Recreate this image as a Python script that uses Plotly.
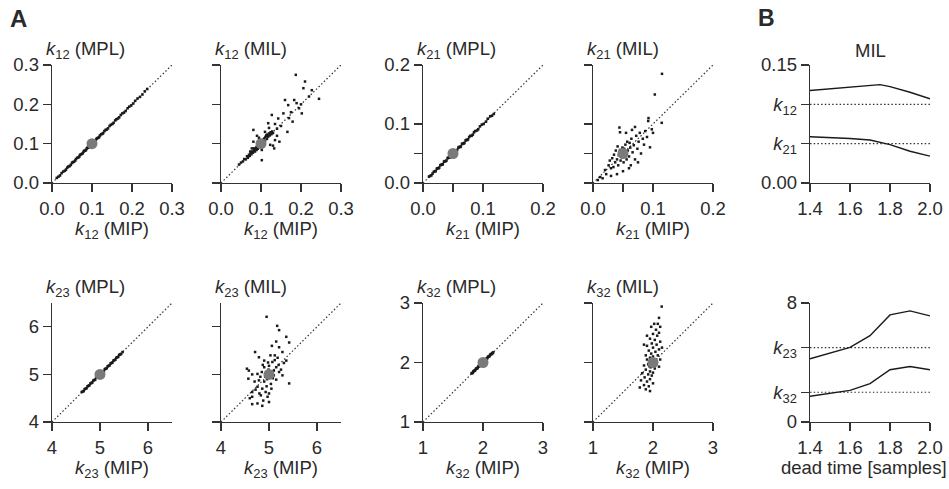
import plotly.graph_objects as go

W, H = 949, 489

# ---------------- data ----------------
k12_true = 0.1
k21_true = 0.05
k23_true = 5.0
k32_true = 2.0

k12_mpl_x = [0.012, 0.016, 0.02, 0.024, 0.028, 0.032, 0.035, 0.038, 0.041, 0.044, 0.047, 0.05, 0.052, 0.055,
             0.058, 0.06, 0.063, 0.066, 0.068, 0.07, 0.072, 0.075, 0.077, 0.079, 0.081, 0.083, 0.085, 0.087,
             0.089, 0.091, 0.093, 0.095, 0.097, 0.099, 0.101, 0.103, 0.105, 0.107, 0.109, 0.111, 0.113, 0.116,
             0.118, 0.12, 0.123, 0.126, 0.128, 0.131, 0.134, 0.137, 0.14, 0.144, 0.147, 0.151, 0.154, 0.158,
             0.161, 0.165, 0.168, 0.172, 0.176, 0.18, 0.184, 0.189, 0.193, 0.198, 0.203, 0.208, 0.214, 0.22,
             0.226, 0.232, 0.238]
k12_mpl_y = [0.013, 0.016, 0.019, 0.025, 0.029, 0.031, 0.034, 0.039, 0.042, 0.043, 0.046, 0.051, 0.053, 0.054,
             0.057, 0.061, 0.064, 0.065, 0.067, 0.071, 0.073, 0.074, 0.076, 0.08, 0.082, 0.082, 0.084, 0.088,
             0.09, 0.09, 0.092, 0.096, 0.098, 0.098, 0.1, 0.104, 0.106, 0.106, 0.108, 0.112, 0.114, 0.115,
             0.117, 0.121, 0.124, 0.125, 0.127, 0.132, 0.135, 0.136, 0.139, 0.145, 0.148, 0.15, 0.153, 0.159,
             0.162, 0.164, 0.167, 0.173, 0.177, 0.179, 0.183, 0.19, 0.194, 0.197, 0.202, 0.209, 0.215, 0.219,
             0.225, 0.233, 0.239]

k12_mil_x = [0.045, 0.05, 0.055, 0.058, 0.062, 0.065, 0.067, 0.07, 0.072, 0.074, 0.076, 0.078, 0.08, 0.082,
             0.083, 0.085, 0.086, 0.088, 0.089, 0.09, 0.092, 0.093, 0.095, 0.096, 0.098, 0.1, 0.102, 0.103,
             0.105, 0.106, 0.108, 0.11, 0.111, 0.113, 0.115, 0.116, 0.118, 0.12, 0.122, 0.124, 0.126, 0.128,
             0.13, 0.081, 0.11, 0.114, 0.118, 0.127, 0.143, 0.156, 0.166, 0.179, 0.16, 0.168, 0.183, 0.189,
             0.202, 0.187, 0.21, 0.206, 0.227, 0.245, 0.135, 0.146, 0.133, 0.123, 0.102, 0.081, 0.073, 0.068,
             0.077, 0.102, 0.14, 0.15, 0.135, 0.12, 0.095, 0.09, 0.13, 0.14, 0.175, 0.195, 0.22, 0.17, 0.2]
k12_mil_y = [0.047, 0.052, 0.055, 0.061, 0.06, 0.068, 0.064, 0.072, 0.069, 0.076, 0.073, 0.08, 0.077, 0.083,
             0.088, 0.08, 0.086, 0.09, 0.084, 0.093, 0.087, 0.096, 0.092, 0.1, 0.095, 0.103, 0.098, 0.107,
             0.101, 0.11, 0.113, 0.106, 0.117, 0.12, 0.112, 0.123, 0.118, 0.126, 0.121, 0.129, 0.124, 0.131,
             0.127, 0.135, 0.13, 0.122, 0.152, 0.173, 0.164, 0.177, 0.13, 0.156, 0.211, 0.198, 0.211, 0.203,
             0.177, 0.275, 0.258, 0.241, 0.236, 0.214, 0.109, 0.105, 0.088, 0.097, 0.084, 0.105, 0.08, 0.067,
             0.088, 0.058, 0.138, 0.145, 0.15, 0.14, 0.115, 0.12, 0.095, 0.12, 0.18, 0.19, 0.22, 0.165, 0.2]

k21_mpl_x = [0.01, 0.012, 0.014, 0.016, 0.018, 0.02, 0.021, 0.023, 0.024, 0.026, 0.027, 0.029, 0.03, 0.032,
             0.033, 0.035, 0.036, 0.038, 0.039, 0.041, 0.042, 0.044, 0.045, 0.047, 0.048, 0.05, 0.051, 0.053,
             0.054, 0.056, 0.057, 0.059, 0.06, 0.062, 0.063, 0.065, 0.066, 0.068, 0.069, 0.071, 0.072, 0.074,
             0.075, 0.077, 0.079, 0.081, 0.083, 0.085, 0.087, 0.09, 0.092, 0.095, 0.098, 0.101, 0.105, 0.108,
             0.112, 0.115, 0.118]
k21_mpl_y = [0.011, 0.012, 0.013, 0.016, 0.019, 0.02, 0.02, 0.024, 0.025, 0.025, 0.026, 0.03, 0.031, 0.031,
             0.032, 0.036, 0.037, 0.037, 0.038, 0.042, 0.043, 0.043, 0.044, 0.048, 0.049, 0.049, 0.05, 0.054,
             0.055, 0.055, 0.056, 0.06, 0.061, 0.061, 0.062, 0.066, 0.067, 0.067, 0.068, 0.072, 0.073, 0.073,
             0.074, 0.078, 0.08, 0.08, 0.082, 0.086, 0.088, 0.089, 0.091, 0.096, 0.099, 0.1, 0.104, 0.109,
             0.113, 0.114, 0.117]

k21_mil_x = [0.008, 0.012, 0.016, 0.02, 0.022, 0.026, 0.028, 0.03, 0.032, 0.034, 0.035, 0.037, 0.038, 0.04,
             0.041, 0.042, 0.043, 0.044, 0.045, 0.045, 0.046, 0.047, 0.048, 0.049, 0.05, 0.051, 0.052, 0.053,
             0.054, 0.055, 0.056, 0.057, 0.058, 0.06, 0.061, 0.062, 0.063, 0.064, 0.066, 0.068, 0.07, 0.072,
             0.074, 0.076, 0.078, 0.08, 0.083, 0.087, 0.092, 0.0925, 0.098, 0.095, 0.103, 0.1145, 0.115, 0.085,
             0.07, 0.06, 0.05, 0.04, 0.03, 0.055, 0.065, 0.075, 0.09, 0.1]
k21_mil_y = [0.005, 0.01, 0.008, 0.022, 0.015, 0.03, 0.038, 0.025, 0.042, 0.027, 0.048, 0.035, 0.055, 0.04,
             0.062, 0.03, 0.047, 0.094, 0.086, 0.056, 0.038, 0.05, 0.044, 0.06, 0.052, 0.035, 0.058, 0.046,
             0.065, 0.05, 0.04, 0.07, 0.055, 0.045, 0.068, 0.06, 0.03, 0.075, 0.052, 0.064, 0.04, 0.08,
             0.058, 0.07, 0.085, 0.05, 0.075, 0.088, 0.105, 0.11, 0.091, 0.0605, 0.15, 0.102, 0.185, 0.065,
             0.095, 0.025, 0.02, 0.015, 0.012, 0.085, 0.09, 0.035, 0.078, 0.085]

k23_mpl_x = [4.62, 4.64, 4.66, 4.68, 4.7, 4.72, 4.74, 4.76, 4.78, 4.8, 4.82, 4.84, 4.86, 4.88, 4.9, 4.92,
             4.94, 4.96, 4.98, 5.0, 5.02, 5.04, 5.06, 5.08, 5.1, 5.12, 5.14, 5.16, 5.18, 5.2, 5.22, 5.24,
             5.26, 5.28, 5.3, 5.32, 5.34, 5.36, 5.38, 5.4, 5.42, 5.44, 5.47]
k23_mpl_y = [4.63, 4.64, 4.65, 4.69, 4.7, 4.71, 4.75, 4.76, 4.77, 4.81, 4.82, 4.83, 4.87, 4.88, 4.89, 4.93,
             4.94, 4.95, 4.99, 5.0, 5.01, 5.05, 5.06, 5.07, 5.11, 5.12, 5.13, 5.17, 5.18, 5.19, 5.23, 5.24,
             5.25, 5.29, 5.3, 5.31, 5.35, 5.36, 5.37, 5.41, 5.42, 5.43, 5.47]

k32_mpl_x = [1.81, 1.82, 1.83, 1.84, 1.85, 1.86, 1.87, 1.88, 1.89, 1.9, 1.91, 1.92, 1.93, 1.94, 1.95, 1.96,
             1.97, 1.98, 1.99, 2.0, 2.01, 2.02, 2.03, 2.04, 2.05, 2.06, 2.07, 2.08, 2.09, 2.1, 2.11, 2.12,
             2.13, 2.14, 2.15, 2.16, 2.17]
k32_mpl_y = [1.82, 1.82, 1.83, 1.85, 1.86, 1.86, 1.87, 1.89, 1.9, 1.9, 1.91, 1.93, 1.94, 1.94, 1.95, 1.97,
             1.98, 1.98, 1.99, 2.01, 2.02, 2.02, 2.03, 2.05, 2.06, 2.06, 2.07, 2.09, 2.1, 2.1, 2.11, 2.13,
             2.14, 2.14, 2.15, 2.16, 2.17]

k23_mil_x = [4.95, 5.17, 5.21, 5.36, 5.15, 5.06, 5.21, 5.28, 5.42, 4.71, 4.79, 4.9, 5.07, 5.12, 5.31, 5.36,
             4.58, 4.76, 4.65, 4.9, 4.99, 5.1, 5.21, 5.28, 4.57, 4.79, 5.15, 5.42, 4.76, 4.86, 4.65, 4.93,
             4.83, 4.97, 4.65, 5.0, 4.88, 4.65, 4.76, 4.86, 4.54, 4.94, 5.02, 4.96, 5.05, 4.92, 5.08, 5.0,
             4.85, 5.15, 4.82, 5.04, 4.9, 5.1, 4.98, 5.2, 4.7, 5.25, 4.8, 5.05, 4.95, 5.12, 4.87, 5.18,
             4.72, 4.6, 5.03, 5.0]
k23_mil_y = [6.21, 6.02, 5.93, 5.79, 5.69, 5.6, 5.57, 5.47, 5.67, 5.47, 5.36, 5.29, 5.26, 5.4, 5.24, 5.29,
             5.08, 5.01, 5.0, 5.15, 5.1, 5.08, 5.05, 4.98, 4.91, 4.875, 4.89, 4.81, 4.74, 4.7, 4.63, 4.63,
             4.56, 4.53, 4.53, 4.42, 4.45, 4.375, 4.39, 4.34, 5.12, 5.02, 4.96, 4.9, 5.05, 4.95, 4.92, 5.18,
             5.05, 5.15, 4.95, 4.8, 4.85, 4.98, 5.25, 5.2, 4.85, 5.1, 4.6, 4.7, 4.75, 5.3, 5.2, 5.35,
             4.68, 4.5, 5.4, 4.6]

k32_mil_x = [2.145, 2.1, 2.08, 2.12, 2.05, 2.1, 2.0, 2.07, 1.95, 2.03, 2.12, 1.98, 2.06, 1.9, 2.0, 2.1,
             1.93, 2.04, 1.97, 2.08, 1.88, 2.0, 1.95, 2.05, 1.9, 2.02, 1.98, 2.06, 1.92, 2.0, 1.85, 2.1,
             1.96, 2.03, 1.88, 1.95, 2.0, 1.82, 1.92, 1.98, 1.86, 1.95, 1.8, 1.9, 2.0, 1.85, 1.93, 1.78,
             1.88, 1.95, 2.15, 2.12, 1.85, 1.9, 2.02, 1.97]
k32_mil_y = [2.94, 2.75, 2.65, 2.6, 2.55, 2.5, 2.48, 2.45, 2.4, 2.38, 2.35, 2.32, 2.3, 2.28, 2.25, 2.22,
             2.2, 2.18, 2.15, 2.12, 2.12, 2.1, 2.08, 2.05, 2.05, 2.02, 2.0, 1.98, 1.97, 1.95, 1.95, 1.93,
             1.92, 1.9, 1.88, 1.85, 1.83, 1.82, 1.8, 1.78, 1.75, 1.72, 1.7, 1.68, 1.65, 1.62, 1.6, 1.58,
             1.55, 1.52, 2.25, 2.05, 2.3, 2.45, 2.65, 2.6]

dead_time_k12 = [1.4, 1.5, 1.6, 1.7, 1.75, 1.8, 1.9, 2.0]
k12_vs_dt = [0.1175, 0.1195, 0.1215, 0.1235, 0.125, 0.1225, 0.1154, 0.107]
dead_time = [1.4, 1.5, 1.6, 1.7, 1.8, 1.9, 2.0]
k21_vs_dt = [0.0588, 0.058, 0.0565, 0.0546, 0.0488, 0.0404, 0.0342]
k23_vs_dt = [4.25, 4.62, 5.02, 5.8, 7.2, 7.47, 7.13]
k32_vs_dt = [1.73, 1.91, 2.13, 2.58, 3.51, 3.73, 3.51]

# axis settings (ranges / ticks)
k12_range = [0, 0.3]
k12_ticks = [0, 0.1, 0.2, 0.3]
k12_ticktext = ["0.0", "0.1", "0.2", "0.3"]
k21_range = [0, 0.2]
k21_ticks = [0, 0.05, 0.1, 0.2]
k21_ticktext = ["0.0", "", "0.1", "0.2"]
k23_range = [4, 6.5]
k23_ticks = [4, 5, 6]
k23_ticktext = ["4", "5", "6"]
k32_range = [1, 3]
k32_ticks = [1, 2, 3]
k32_ticktext = ["1", "2", "3"]
dt_range = [1.4, 2.0]
dt_ticks = [1.4, 1.6, 1.8, 2.0]
dt_ticktext = ["1.4", "1.6", "1.8", "2.0"]
bt_range = [0, 0.15]
bt_ticks = [0, 0.05, 0.1, 0.15]
bt_ticktext = ["0.00", "<i>k</i><sub>21</sub>", "<i>k</i><sub>12</sub>", "0.15"]
bb_range = [0, 8]
bb_ticks = [0, 2, 5, 8]
bb_ticktext = ["0", "<i>k</i><sub>32</sub>", "<i>k</i><sub>23</sub>", "8"]

# ---------------- layout helpers ----------------
FONT = "Liberation Sans, Arial, sans-serif"
TXT = "#2a2a2a"
FS = 18.5
cols = [(52, 172), (221, 341), (423, 543), (593, 713), (810, 930)]
rows = [(65, 183), (303, 422)]


def px_x(p):
    return p / W


def px_y(p):
    return 1 - p / H


fig = go.Figure()
layout = dict(template="none", width=W, height=H, margin=dict(l=0, r=0, t=0, b=0, pad=0, autoexpand=False),
              paper_bgcolor="white", plot_bgcolor="white", showlegend=False,
              font=dict(family=FONT, size=FS, color=TXT))

axis_style = dict(showline=True, linecolor="#333", linewidth=1.3, ticks="outside", ticklen=8,
                  tickwidth=1.3, tickcolor="#333", showgrid=False, zeroline=False, automargin=False,
                  tickfont=dict(family=FONT, size=FS, color=TXT), fixedrange=True)

panels = [
    (1, 0, 0, k12_range, k12_ticks, k12_ticktext, k12_range, k12_ticks, k12_ticktext, True),
    (2, 1, 0, k12_range, k12_ticks, k12_ticktext, k12_range, k12_ticks, k12_ticktext, False),
    (3, 2, 0, k21_range, k21_ticks, k21_ticktext, k21_range, k21_ticks, k21_ticktext, True),
    (4, 3, 0, k21_range, k21_ticks, k21_ticktext, k21_range, k21_ticks, k21_ticktext, False),
    (5, 4, 0, dt_range, dt_ticks, dt_ticktext, bt_range, bt_ticks, bt_ticktext, True),
    (6, 0, 1, k23_range, k23_ticks, k23_ticktext, k23_range, k23_ticks, k23_ticktext, True),
    (7, 1, 1, k23_range, k23_ticks, k23_ticktext, k23_range, k23_ticks, k23_ticktext, False),
    (8, 2, 1, k32_range, k32_ticks, k32_ticktext, k32_range, k32_ticks, k32_ticktext, True),
    (9, 3, 1, k32_range, k32_ticks, k32_ticktext, k32_range, k32_ticks, k32_ticktext, False),
    (10, 4, 1, dt_range, dt_ticks, dt_ticktext, bb_range, bb_ticks, bb_ticktext, True),
]


def ax(idx):
    return ("x" if idx == 1 else f"x{idx}", "y" if idx == 1 else f"y{idx}")


for idx, c, r, xr, xt, xtt, yr, yt, ytt, ylab in panels:
    xname = "xaxis" if idx == 1 else f"xaxis{idx}"
    yname = "yaxis" if idx == 1 else f"yaxis{idx}"
    xa, ya = ax(idx)
    layout[xname] = dict(axis_style, domain=[px_x(cols[c][0]), px_x(cols[c][1])], range=xr,
                         tickvals=xt, ticktext=xtt, anchor=ya)
    layout[yname] = dict(axis_style, domain=[px_y(rows[r][1]), px_y(rows[r][0])], range=yr,
                         tickvals=yt, ticktext=ytt, anchor=xa, showticklabels=ylab)

DOT = dict(color="#333", width=1.2, dash="1.5px,2.2px")
PT = "#1a1a1a"
GRAY = "#7a7a7a"

scatter_sets = [
    (1, k12_range, k12_mpl_x, k12_mpl_y, k12_true, 2.6),
    (2, k12_range, k12_mil_x, k12_mil_y, k12_true, 2.5),
    (3, k21_range, k21_mpl_x, k21_mpl_y, k21_true, 2.6),
    (4, k21_range, k21_mil_x, k21_mil_y, k21_true, 2.5),
    (6, k23_range, k23_mpl_x, k23_mpl_y, k23_true, 2.6),
    (7, k23_range, k23_mil_x, k23_mil_y, k23_true, 2.5),
    (8, k32_range, k32_mpl_x, k32_mpl_y, k32_true, 2.6),
    (9, k32_range, k32_mil_x, k32_mil_y, k32_true, 2.5),
]
for idx, rng, xs, ys, tv, ms in scatter_sets:
    xa, ya = ax(idx)
    fig.add_trace(go.Scatter(x=rng, y=rng, mode="lines", line=DOT, xaxis=xa, yaxis=ya, hoverinfo="skip"))
    fig.add_trace(go.Scatter(x=xs, y=ys, mode="markers", marker=dict(size=ms, color=PT, symbol="square",
                  line=dict(width=0)), xaxis=xa, yaxis=ya))
    fig.add_trace(go.Scatter(x=[tv], y=[tv], mode="markers", marker=dict(size=11, color=GRAY,
                  line=dict(width=0)), xaxis=xa, yaxis=ya))

# panel B
LINE = dict(color="#1a1a1a", width=1.4)
xa, ya = ax(5)
for tv in (k12_true, k21_true):
    fig.add_trace(go.Scatter(x=dt_range, y=[tv, tv], mode="lines", line=DOT, xaxis=xa, yaxis=ya))
fig.add_trace(go.Scatter(x=dead_time_k12, y=k12_vs_dt, mode="lines", line=LINE, xaxis=xa, yaxis=ya))
fig.add_trace(go.Scatter(x=dead_time, y=k21_vs_dt, mode="lines", line=LINE, xaxis=xa, yaxis=ya))
xa, ya = ax(10)
for tv in (k23_true, k32_true):
    fig.add_trace(go.Scatter(x=dt_range, y=[tv, tv], mode="lines", line=DOT, xaxis=xa, yaxis=ya))
fig.add_trace(go.Scatter(x=dead_time, y=k23_vs_dt, mode="lines", line=LINE, xaxis=xa, yaxis=ya))
fig.add_trace(go.Scatter(x=dead_time, y=k32_vs_dt, mode="lines", line=LINE, xaxis=xa, yaxis=ya))

# ---------------- annotations ----------------
ann = []


def text(s, x, y, xanchor="center", size=FS, bold=False):
    ann.append(dict(text=f"<b>{s}</b>" if bold else s, x=px_x(x), y=px_y(y), xref="paper", yref="paper",
                    xanchor=xanchor, yanchor="middle", showarrow=False,
                    font=dict(family=FONT, size=size, color=TXT)))


ylabels = [("12", "MPL", 0, 0), ("12", "MIL", 1, 0), ("21", "MPL", 2, 0), ("21", "MIL", 3, 0),
           ("23", "MPL", 0, 1), ("23", "MIL", 1, 1), ("32", "MPL", 2, 1), ("32", "MIL", 3, 1)]
for sub, m, c, r in ylabels:
    text(f"<i>k</i><sub>{sub}</sub> ({m})", cols[c][0] - 8, rows[r][0] - 15, xanchor="left")
    text(f"<i>k</i><sub>{sub}</sub> (MIP)", (cols[c][0] + cols[c][1]) / 2, rows[r][1] + 47)

text("MIL", (cols[4][0] + cols[4][1]) / 2, rows[0][0] - 15)
text("dead time [samples]", (cols[4][0] + cols[4][1]) / 2 - 6, rows[1][1] + 45)
text("A", 8, 18, xanchor="left", size=24, bold=True)
text("B", 756, 18, xanchor="left", size=23, bold=True)

layout["annotations"] = ann
fig.update_layout(**layout)
fig.write_html("out.html", config={"displayModeBar": False, "staticPlot": True},
               post_script="document.body.style.margin='0';document.body.style.padding='0';"
                           "document.documentElement.style.overflow='hidden';")
